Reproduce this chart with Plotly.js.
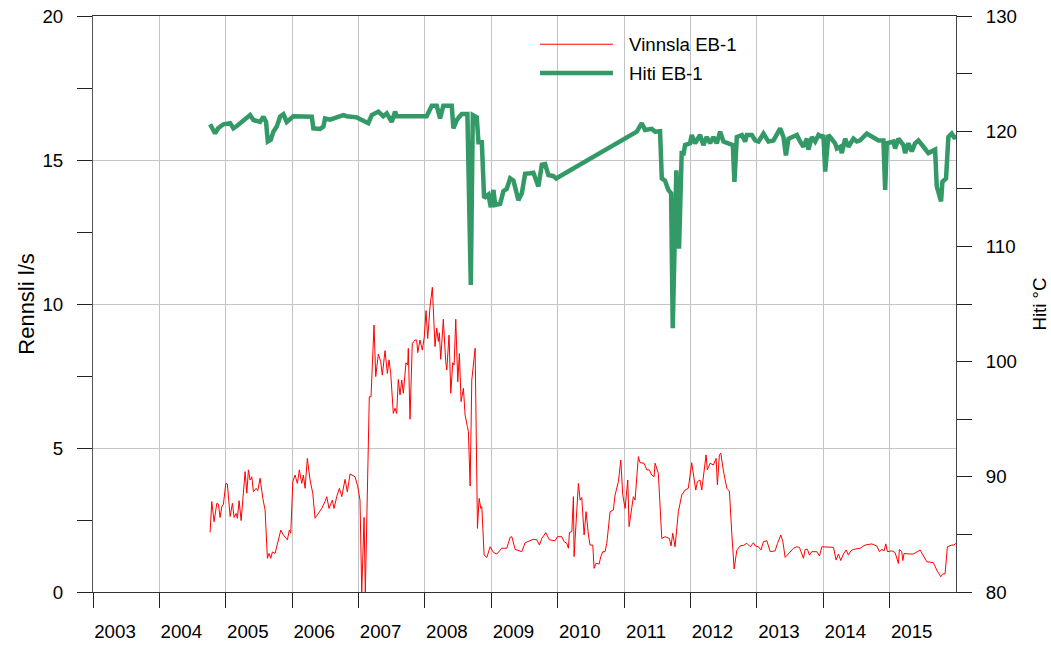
<!DOCTYPE html>
<html>
<head>
<meta charset="utf-8">
<script src="https://cdn.plot.ly/plotly-3.0.1.min.js"></script>
<style>
  html, body { margin: 0; padding: 0; background: #ffffff; }
  #chart { width: 1051px; height: 645px; }
</style>
</head>
<body>
<div id="chart"></div>
<script>
// ---- Data (decimal years) ----
const seriesNames = ['Vinnsla EB-1', 'Hiti EB-1'];
const yearLabels = ['2003','2004','2005','2006','2007','2008','2009','2010','2011','2012','2013','2014','2015'];

// Vinnsla EB-1 : flow, l/s (left axis)
const vinnslaYear = [
2004.763,2004.788,2004.823,2004.864,2004.888,2004.913,2004.939,2004.963,2004.999,2005.023,
2005.064,2005.099,2005.124,2005.154,2005.174,2005.200,2005.230,2005.264,2005.290,2005.316,
2005.340,2005.365,2005.391,2005.415,2005.456,2005.481,2005.516,2005.557,2005.591,2005.626,
2005.651,2005.677,2005.701,2005.742,2005.777,2005.828,2005.867,2005.927,2005.957,2005.978,
2006.009,2006.043,2006.078,2006.108,2006.144,2006.168,2006.194,2006.228,2006.269,2006.310,
2006.344,2006.394,2006.445,2006.495,2006.521,2006.555,2006.605,2006.631,2006.671,2006.711,
2006.747,2006.796,2006.831,2006.872,2006.947,2006.988,2007.022,2007.048,2007.083,2007.102,
2007.162,2007.188,2007.233,2007.259,2007.298,2007.334,2007.358,2007.399,2007.434,2007.459,
2007.485,2007.524,2007.550,2007.575,2007.599,2007.625,2007.651,2007.675,2007.715,2007.741,
2007.750,2007.776,2007.810,2007.851,2007.877,2007.892,2007.926,2007.961,2007.991,2008.017,
2008.042,2008.077,2008.112,2008.152,2008.178,2008.202,2008.217,2008.238,2008.277,2008.313,
2008.329,2008.363,2008.389,2008.419,2008.439,2008.464,2008.494,2008.518,2008.544,2008.579,
2008.604,2008.639,2008.654,2008.680,2008.705,2008.755,2008.790,2008.815,2008.841,2008.856,
2008.890,2008.931,2008.981,2009.031,2009.082,2009.157,2009.232,2009.282,2009.308,2009.357,
2009.458,2009.508,2009.583,2009.633,2009.684,2009.724,2009.760,2009.820,2009.874,2009.960,
2009.995,2010.061,2010.096,2010.136,2010.160,2010.176,2010.212,2010.236,2010.246,2010.276,
2010.311,2010.337,2010.362,2010.397,2010.427,2010.462,2010.487,2010.528,2010.548,2010.578,
2010.623,2010.649,2010.679,2010.713,2010.739,2010.789,2010.838,2010.864,2010.914,2010.950,
2010.980,2011.015,2011.055,2011.075,2011.116,2011.140,2011.165,2011.215,2011.241,2011.301,
2011.342,2011.381,2011.417,2011.452,2011.467,2011.516,2011.568,2011.617,2011.682,2011.708,
2011.733,2011.768,2011.818,2011.869,2011.919,2011.968,2012.019,2012.044,2012.080,2012.104,
2012.144,2012.170,2012.205,2012.235,2012.254,2012.295,2012.345,2012.386,2012.405,2012.435,
2012.456,2012.496,2012.547,2012.586,2012.622,2012.657,2012.697,2012.747,2012.797,2012.848,
2012.898,2012.947,2012.973,2013.023,2013.059,2013.098,2013.149,2013.199,2013.274,2013.309,
2013.360,2013.390,2013.425,2013.500,2013.550,2013.601,2013.640,2013.677,2013.701,2013.726,
2013.761,2013.791,2013.827,2013.903,2013.942,2013.978,2014.053,2014.153,2014.193,2014.228,
2014.264,2014.303,2014.344,2014.379,2014.415,2014.454,2014.555,2014.630,2014.731,2014.806,
2014.846,2014.882,2014.916,2014.942,2014.966,2015.033,2015.082,2015.132,2015.147,2015.183,
2015.198,2015.218,2015.283,2015.358,2015.459,2015.509,2015.560,2015.659,2015.710,2015.771,
2015.801,2015.835,2015.870,2015.936,2015.971,2015.995
];
const vinnslaFlow = [
2.07,3.14,2.44,3.08,3.05,2.59,2.96,3.05,3.77,3.75,
2.62,3.08,2.59,2.73,2.56,3.17,2.48,3.66,4.18,3.43,
4.24,3.89,4.00,3.48,3.60,3.52,3.95,3.25,2.85,1.17,
1.34,1.17,1.39,1.34,1.69,2.15,1.98,1.81,2.15,2.04,
3.83,4.06,3.77,4.24,3.77,4.06,3.60,4.64,3.89,3.43,
2.56,2.73,2.90,3.14,3.31,2.90,3.19,2.90,3.31,3.60,
3.31,3.91,3.48,4.10,4.00,3.66,3.19,0.00,2.59,0.00,
6.78,6.78,9.27,7.48,8.26,8.00,7.53,8.38,7.59,8.06,
7.59,6.20,6.38,6.20,7.38,6.84,7.36,6.90,7.96,7.88,
8.46,6.00,8.63,8.75,8.75,8.31,8.75,8.40,8.86,9.77,
8.80,9.91,10.58,8.52,9.16,8.70,9.00,8.08,9.47,8.00,
7.71,8.92,6.90,7.96,7.88,9.47,7.30,8.28,6.61,7.07,
6.15,5.74,5.57,3.68,7.36,8.46,2.21,3.25,2.90,2.96,
1.28,1.20,1.57,1.37,1.32,1.52,1.52,1.90,1.92,1.48,
1.40,1.71,1.78,1.83,1.81,1.63,1.86,2.06,1.81,1.78,
1.92,1.92,1.75,1.69,1.52,2.06,2.10,3.31,1.23,2.50,
3.77,3.19,3.28,1.98,2.79,1.98,1.63,1.63,0.82,1.00,
0.97,1.23,1.40,1.40,1.69,2.79,2.85,3.37,3.83,4.58,
3.37,2.90,3.89,2.27,2.96,3.31,3.19,4.70,4.49,4.47,
4.24,4.24,4.06,4.00,4.47,4.12,1.86,1.92,1.86,1.60,
2.04,1.57,2.79,3.37,3.54,3.60,4.49,4.06,3.54,3.83,
3.89,3.54,4.30,4.76,4.24,4.47,4.41,4.64,3.72,4.76,
4.82,4.20,3.60,3.50,2.00,0.80,1.45,1.60,1.62,1.69,
1.57,1.71,1.60,1.57,1.46,1.75,1.78,1.40,1.43,1.69,
1.98,1.75,1.20,1.37,1.52,1.57,1.55,1.32,1.17,1.48,
1.48,1.28,1.40,1.40,1.25,1.57,1.57,1.55,1.11,1.32,
1.09,1.32,1.46,1.28,1.43,1.48,1.52,1.63,1.67,1.60,
1.40,1.48,1.43,1.67,1.40,1.43,1.37,0.99,1.48,1.40,
1.09,1.34,1.32,1.32,1.46,1.25,1.05,1.02,0.76,0.53,
0.63,0.63,1.57,1.63,1.63,1.69
];

// Hiti EB-1 : temperature, °C (right axis)
const hitiYear = [
2004.763,2004.838,2004.883,2004.963,2005.064,2005.114,2005.165,2005.240,2005.290,2005.365,
2005.415,2005.516,2005.566,2005.606,2005.632,2005.677,2005.716,2005.767,2005.817,2005.867,
2005.918,2005.968,2006.018,2006.295,2006.319,2006.420,2006.470,2006.495,2006.570,2006.671,
2006.771,2006.822,2006.973,2007.147,2007.199,2007.298,2007.373,2007.425,2007.500,2007.550,
2007.575,2008.027,2008.103,2008.178,2008.228,2008.277,2008.404,2008.428,2008.479,2008.554,
2008.639,2008.690,2008.720,2008.780,2008.805,2008.856,2008.890,2008.955,2008.991,2009.031,
2009.056,2009.131,2009.181,2009.232,2009.282,2009.332,2009.383,2009.407,2009.458,2009.508,
2009.583,2009.633,2009.708,2009.760,2009.809,2009.859,2009.934,2009.975,2011.191,2011.266,
2011.316,2011.417,2011.467,2011.542,2011.568,2011.617,2011.667,2011.708,2011.733,2011.787,
2011.828,2011.869,2011.893,2011.919,2011.994,2012.019,2012.069,2012.144,2012.194,2012.245,
2012.295,2012.345,2012.396,2012.446,2012.496,2012.571,2012.637,2012.661,2012.697,2012.773,
2012.822,2012.848,2012.923,2012.973,2013.023,2013.098,2013.173,2013.249,2013.300,2013.350,
2013.399,2013.436,2013.475,2013.550,2013.601,2013.651,2013.701,2013.752,2013.776,2013.827,
2013.877,2013.927,2013.978,2014.002,2014.028,2014.077,2014.129,2014.178,2014.204,2014.254,
2014.279,2014.329,2014.379,2014.454,2014.505,2014.555,2014.656,2014.755,2014.831,2014.906,
2014.932,2014.957,2015.057,2015.082,2015.132,2015.207,2015.233,2015.283,2015.334,2015.383,
2015.433,2015.509,2015.584,2015.685,2015.710,2015.775,2015.795,2015.850,2015.885,2015.936,
2015.986,2015.995
];
const hitiTemp = [
120.6,119.8,120.25,120.6,120.7,120.25,120.45,120.8,121.0,121.4,
120.97,120.8,121.26,120.8,119.1,119.25,119.96,120.4,121.26,121.47,
120.8,121.1,121.3,121.26,120.25,120.2,120.4,121.1,121.0,121.2,
121.4,121.3,121.2,120.7,121.4,121.7,121.3,121.55,120.8,121.7,
121.3,121.3,122.2,122.2,121.1,122.2,122.2,120.25,120.97,121.5,
121.5,106.65,121.4,121.2,119.05,119.05,114.2,114.5,113.4,114.9,
113.6,113.7,114.8,115.0,115.9,115.7,114.6,114.0,114.6,116.3,
116.35,116.4,115.2,117.1,117.15,116.2,116.1,115.9,119.96,120.7,
120.1,120.2,119.96,120.0,115.9,115.7,114.9,114.6,102.9,116.6,
109.8,118.3,117.9,118.8,118.95,119.67,118.95,119.67,118.8,119.5,
118.95,119.5,118.95,119.96,119.1,118.95,118.8,115.6,119.5,119.67,
119.1,119.67,119.67,119.2,119.1,119.8,119.1,119.2,119.8,120.25,
119.5,117.9,119.35,119.5,119.67,119.1,118.65,119.35,118.4,119.5,
119.1,119.67,119.5,119.67,116.5,119.67,119.35,118.95,118.5,118.65,
118.1,119.35,118.65,119.35,119.1,119.2,119.8,119.5,119.2,119.2,
114.9,118.95,119.1,118.5,119.35,118.8,118.1,118.95,118.25,118.95,
119.2,118.65,118.1,118.4,115.2,113.9,115.6,115.9,119.5,119.8,
119.35,119.7
];

// ---- helpers ----
function toDate(y) {
  const yr = Math.floor(y);
  const a = Date.UTC(yr, 0, 1), b = Date.UTC(yr + 1, 0, 1);
  return new Date(a + (y - yr) * (b - a)).toISOString().replace('T', ' ').replace('Z', '');
}
const tickVals = yearLabels.map(s => s + '-01-01');

const FONT = 'Liberation Sans, Arial, sans-serif';
const RED = '#ff0000';
const GREEN = '#339966';

const traces = [
  {
    x: vinnslaYear.map(toDate), y: vinnslaFlow, name: seriesNames[0],
    type: 'scatter', mode: 'lines', yaxis: 'y',
    line: { color: RED, width: 1 }, showlegend: false
  },
  {
    x: hitiYear.map(toDate), y: hitiTemp, name: seriesNames[1],
    type: 'scatter', mode: 'lines', yaxis: 'y2',
    line: { color: GREEN, width: 4.5, shape: 'linear' }, showlegend: false
  }
];

const layout = {
  width: 1051, height: 645,
  margin: { l: 93, r: 95, t: 16, b: 53 },
  paper_bgcolor: '#ffffff', plot_bgcolor: '#ffffff',
  font: { family: FONT, size: 18.7, color: '#000000' },
  showlegend: false,
  xaxis: {
    type: 'date',
    range: ['2003-01-01', '2016-01-01'],
    tickmode: 'array', tickvals: tickVals, ticktext: yearLabels,
    ticks: 'outside', ticklen: 15, tickwidth: 1, tickcolor: '#222',
    ticklabelshift: 22, ticklabelstandoff: 8,
    showgrid: true, gridcolor: '#c4c4c4', gridwidth: 1,
    showline: true, linecolor: '#333', linewidth: 1, mirror: true,
    zeroline: false, tickfont: { size: 18.7 }
  },
  yaxis: {
    range: [0, 20], tickvals: [0, 5, 10, 15, 20],
    ticks: 'outside', ticklen: 15, tickwidth: 1, tickcolor: '#222',
    ticklabelstandoff: 10,
    minor: { tickvals: [2.5, 7.5, 12.5, 17.5], ticks: 'outside', ticklen: 15, tickcolor: '#222', showgrid: false },
    showgrid: true, gridcolor: '#c4c4c4', gridwidth: 1,
    showline: true, linecolor: '#555', linewidth: 1,
    zeroline: false, tickfont: { size: 18.7 },
    title: { text: 'Rennsli l/s', font: { size: 22 }, standoff: 1 }
  },
  yaxis2: {
    overlaying: 'y', side: 'right',
    range: [80, 130], tickvals: [80, 90, 100, 110, 120, 130],
    ticks: 'outside', ticklen: 15, tickwidth: 1, tickcolor: '#222',
    ticklabelstandoff: 10,
    minor: { tickvals: [85, 95, 105, 115, 125], ticks: 'outside', ticklen: 15, tickcolor: '#222', showgrid: false },
    showgrid: false, showline: true, linecolor: '#444', linewidth: 1,
    zeroline: false, tickfont: { size: 18.7 },
    title: { text: 'Hiti °C', font: { size: 18.7 }, standoff: 16 }
  },
  shapes: [
    { type: 'line', xref: 'paper', yref: 'paper', x0: 0.518, x1: 0.6025, y0: 0.951, y1: 0.951,
      line: { color: RED, width: 1 } },
    { type: 'line', xref: 'paper', yref: 'paper', x0: 0.518, x1: 0.6025, y0: 0.901, y1: 0.901,
      line: { color: GREEN, width: 4.5 } }
  ],
  annotations: [
    { xref: 'paper', yref: 'paper', x: 0.619, y: 0.951, xanchor: 'left', yanchor: 'middle',
      text: seriesNames[0], showarrow: false, font: { size: 18.7 } },
    { xref: 'paper', yref: 'paper', x: 0.619, y: 0.901, xanchor: 'left', yanchor: 'middle',
      text: seriesNames[1], showarrow: false, font: { size: 18.7 } }
  ]
};

Plotly.newPlot('chart', traces, layout, { displayModeBar: false, staticPlot: true });
</script>
</body>
</html>
